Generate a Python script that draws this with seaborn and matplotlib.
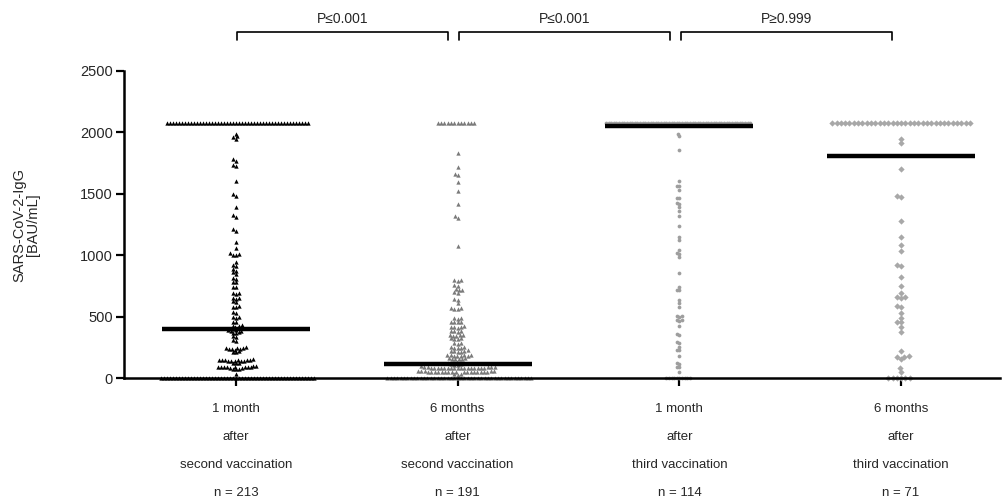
import numpy as np
import pandas as pd
import matplotlib
matplotlib.use("Agg")
import matplotlib.pyplot as plt
import seaborn as sns

# groups and labels
groups = ["m1_v2", "m6_v2", "m1_v3", "m6_v3"]
tick_labels = ["1 month\nafter\nsecond vaccination\nn = 213",
               "6 months\nafter\nsecond vaccination\nn = 191",
               "1 month\nafter\nthird vaccination\nn = 114",
               "6 months\nafter\nthird vaccination\nn = 71"]

# values (BAU/mL); 2080 = upper limit, 0 = lower limit
top_value = 2080
n_top = [48, 12, 56, 33]
n_zero = [52, 44, 10, 6]

g1_mid = [1990, 1970, 1960, 1950, 1780, 1770, 1735, 1725, 1605, 1495, 1485,
          1395, 1325, 1315, 1210, 1200, 1110, 1060, 1015, 1010, 1005, 1000,
          945, 920, 910, 885, 875, 860, 850, 815, 810, 785, 780, 745, 740,
          695, 690, 685, 655, 650, 645, 625, 615, 585, 580, 575, 535, 530,
          500, 495, 490, 460, 455, 432, 426, 421, 414, 409, 404, 398, 393,
          388, 384, 380, 376, 369, 364, 341, 334, 306, 299, 251, 248, 244,
          242, 239, 237, 234, 231, 216, 212, 209, 152, 150, 148, 147, 146,
          144, 143, 142, 141, 140, 139, 137, 126, 122, 119, 96, 95, 93, 92,
          91, 90, 89, 88, 87, 86, 85, 83, 76, 73, 70, 30]

g2_mid = [1830, 1720, 1665, 1655, 1595, 1525, 1420, 1320, 1305, 1075,
          800, 795, 790, 760, 752, 725, 720, 715, 698, 690, 642, 638, 608,
          570, 567, 563, 560, 488, 485, 480, 460, 457, 455, 452,
          420, 418, 415, 412, 410, 385, 383, 380, 378, 352, 350, 348, 345, 342,
          325, 322, 320, 318, 285, 282, 278, 252, 250, 248, 246, 244,
          225, 222, 220, 218, 215, 212, 190, 188, 186, 184, 182, 180, 178, 176,
          162, 160, 158, 156, 154, 152,
          130, 125, 120, 115, 112, 108, 105, 100,
          88, 87, 87, 86, 86, 85, 85, 84, 84, 84, 83, 83, 83, 82, 82, 81,
          81, 80, 80, 79, 79, 78,
          55, 54, 54, 53, 53, 52, 52, 51, 51, 51, 50, 50, 50, 49, 49, 48,
          48, 47, 47, 46, 46, 45,
          32, 30, 28]

g3_mid = [1985, 1970, 1860, 1605, 1565, 1560, 1530, 1468, 1462, 1425,
          1418, 1395, 1362, 1322, 1240, 1150, 1125, 1042, 1018, 1012,
          983, 852, 740, 718, 715, 635, 608, 580, 507, 503,
          500, 474, 470, 468, 423, 358, 354, 290, 286, 255,
          230, 226, 178, 122, 118, 92, 90, 52]

g4_mid = [1945, 1910, 1700, 1485, 1477, 1280, 1150, 1083, 1034, 918,
          912, 825, 750, 690, 660, 657, 654, 583, 579, 532,
          491, 460, 456, 413, 377, 222, 178, 174, 170, 152, 84, 51]

medians = [400, 110, 2050, 1810]
p_labels = ["P\u22640.001", "P\u22640.001", "P\u22650.999"]

colors = ["#000000", "#7a7a7a", "#9e9e9e", "#a8a8a8"]
markers = ["^", "^", "o", "D"]
swarm_sizes = [2.05, 2.3, 1.8, 2.95]   # spacing used for the swarm layout
shown_sizes = [3.1, 3.1, 2.7, 3.2]     # marker size actually drawn

mids = [g1_mid, g2_mid, g3_mid, g4_mid]
rows = []
for i, g in enumerate(groups):
    vals = [top_value] * n_top[i] + mids[i] + [0] * n_zero[i]
    for v in vals:
        rows.append({"group": g, "value": v})
df = pd.DataFrame(rows)

sns.set_style("ticks")
plt.rcParams["font.family"] = ["Liberation Sans", "DejaVu Sans"]

fig = plt.figure(figsize=(10.03, 4.98), dpi=100)
ax = fig.add_axes([124 / 1003, 120 / 498, 876 / 1003, 307 / 498])

swarm_colls = []
for i, g in enumerate(groups):
    n_before = len(ax.collections)
    sns.swarmplot(data=df[df["group"] == g], x="group", y="value", order=groups,
                  color=colors[i], marker=markers[i], size=swarm_sizes[i],
                  linewidth=0, ax=ax, clip_on=False, zorder=2, warn_thresh=1)
    for coll in ax.collections[n_before:]:
        swarm_colls.append((i, coll))

xs = np.arange(len(groups))
ax.hlines(medians, xs - 0.334, xs + 0.334, color="black", lw=3.2, zorder=3)

ax.set_xlim(-0.505, 3.446)
ax.set_ylim(0, 2500)
ax.set_yticks([0, 500, 1000, 1500, 2000, 2500])
ax.set_xticks(xs)
ax.set_xticklabels(tick_labels, fontsize=9.5, linespacing=2.76)
ax.tick_params(axis="x", length=6, width=1.6, pad=12, color="black")
ax.tick_params(axis="y", length=6, width=1.6, pad=2, labelsize=10.5, color="black")
ax.set_xlabel("")
ax.set_ylabel("SARS-CoV-2-IgG\n[BAU/mL]", fontsize=10.5, linespacing=1.0)
ax.yaxis.label.set_va("center")
ax.yaxis.set_label_coords(-0.112, 0.5)

for s in ["top", "right"]:
    ax.spines[s].set_visible(False)
for s in ["left", "bottom"]:
    ax.spines[s].set_linewidth(1.8)
    ax.spines[s].set_color("black")

# significance brackets
for i, p in enumerate(p_labels):
    x0 = i + 0.005
    x1 = i + 0.958
    ax.plot([x0, x0, x1, x1], [2752, 2818, 2818, 2752], color="black",
            lw=1.2, clip_on=False)
    ax.text((x0 + x1) / 2, 2865, p, ha="center", va="bottom", fontsize=10)

# lay the swarms out once, then freeze them and draw the markers a bit bigger
fig.canvas.draw()
for i, coll in swarm_colls:
    if "draw" in coll.__dict__:
        del coll.draw
    coll.set_sizes(coll.get_sizes() * (shown_sizes[i] / swarm_sizes[i]) ** 2)

fig.savefig("out.png", dpi=100)
